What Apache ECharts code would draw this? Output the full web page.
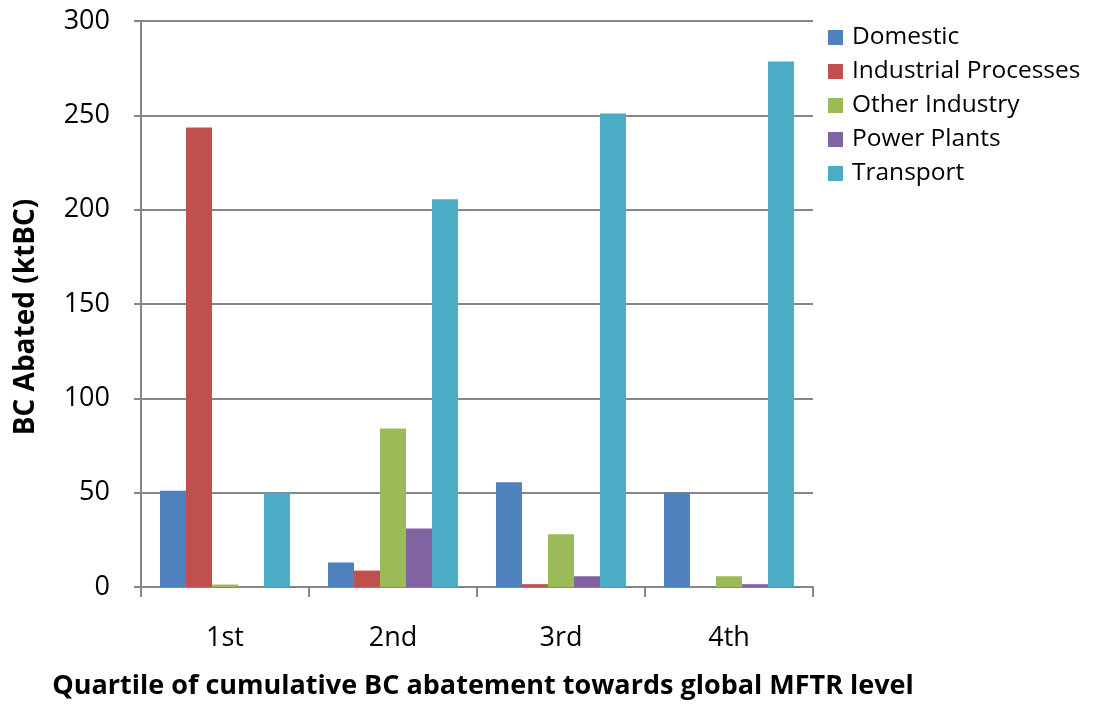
<!DOCTYPE html>
<html>
<head>
<meta charset="utf-8">
<script src="https://cdn.jsdelivr.net/npm/echarts@6/dist/echarts.min.js"></script>
<style>
  html, body { margin: 0; padding: 0; background: #fff; }
  #chart { width: 1095px; height: 705px; }
</style>
</head>
<body>
<div id="chart"></div>
<script>
// Quartiles of cumulative BC abatement
const categories = ['1st', '2nd', '3rd', '4th'];

// BC abated per sector (ktBC)
const domestic = [51, 13, 55.5, 50];
const industrialProcesses = [243.5, 8.7, 1.5, 0];
const otherIndustry = [1.3, 84, 28, 5.7];
const powerPlants = [-1.7, 31, 5.7, 1.5];
const transport = [50, 205.5, 251, 278.5];

const yTicks = [0, 50, 100, 150, 200, 250, 300];

const seriesDefs = [
  { name: 'Domestic', data: domestic, color: '#4f81bd' },
  { name: 'Industrial Processes', data: industrialProcesses, color: '#c0504d' },
  { name: 'Other Industry', data: otherIndustry, color: '#9bbb59' },
  { name: 'Power Plants', data: powerPlants, color: '#8064a2' },
  { name: 'Transport', data: transport, color: '#4bacc6' }
];

const font = '"Open Sans", "Noto Sans", sans-serif';
const axisGray = '#868686';

const chart = echarts.init(document.getElementById('chart'), null, { renderer: 'canvas' });

chart.setOption({
  animation: false,
  backgroundColor: '#ffffff',
  textStyle: { fontFamily: font, color: '#000' },
  grid: { left: 141, right: 282, top: 21, bottom: 117, containLabel: false },
  legend: {
    orient: 'vertical',
    left: 823,
    top: 20,
    itemWidth: 15,
    itemHeight: 15,
    itemGap: 9,
    icon: 'rect',
    textStyle: { fontFamily: font, fontSize: 24.5, color: '#000', padding: [0, 0, 0, 4] },
    data: seriesDefs.map(s => s.name)
  },
  xAxis: {
    type: 'category',
    data: categories,
    name: 'Quartile of cumulative BC abatement towards global MFTR level',
    nameLocation: 'middle',
    nameGap: 86,
    nameTextStyle: { fontFamily: font, fontSize: 27, fontWeight: 'bold', color: '#000', padding: [0, 0, 0, 12] },
    axisLine: { show: true, onZero: false, lineStyle: { color: axisGray, width: 2 } },
    axisTick: { show: true, length: 10, inside: false, alignWithLabel: false, lineStyle: { color: axisGray, width: 2 } },
    axisLabel: { fontFamily: font, fontSize: 27, color: '#000', margin: 38 },
    splitLine: { show: false }
  },
  yAxis: {
    type: 'value',
    min: 0,
    max: 300,
    interval: 50,
    name: 'BC Abated (ktBC)',
    nameLocation: 'middle',
    nameGap: 101,
    nameRotate: 90,
    nameTextStyle: { fontFamily: font, fontSize: 28, fontWeight: 'bold', color: '#000', padding: [0, 26, 0, 0] },
    axisLine: { show: true, lineStyle: { color: axisGray, width: 2 } },
    axisTick: { show: true, length: 7, inside: false, lineStyle: { color: axisGray, width: 2 } },
    axisLabel: {
      fontFamily: font, fontSize: 27, color: '#000', margin: 31,
      formatter: v => (yTicks.indexOf(v) >= 0 ? String(v) : '')
    },
    splitLine: { show: true, lineStyle: { color: axisGray, width: 2 } }
  },
  series: seriesDefs.map(s => ({
    name: s.name,
    type: 'bar',
    data: s.data,
    barGap: '0%',
    barCategoryGap: '22.6%',
    itemStyle: { color: s.color },
    z: 3
  }))
});
</script>
</body>
</html>
